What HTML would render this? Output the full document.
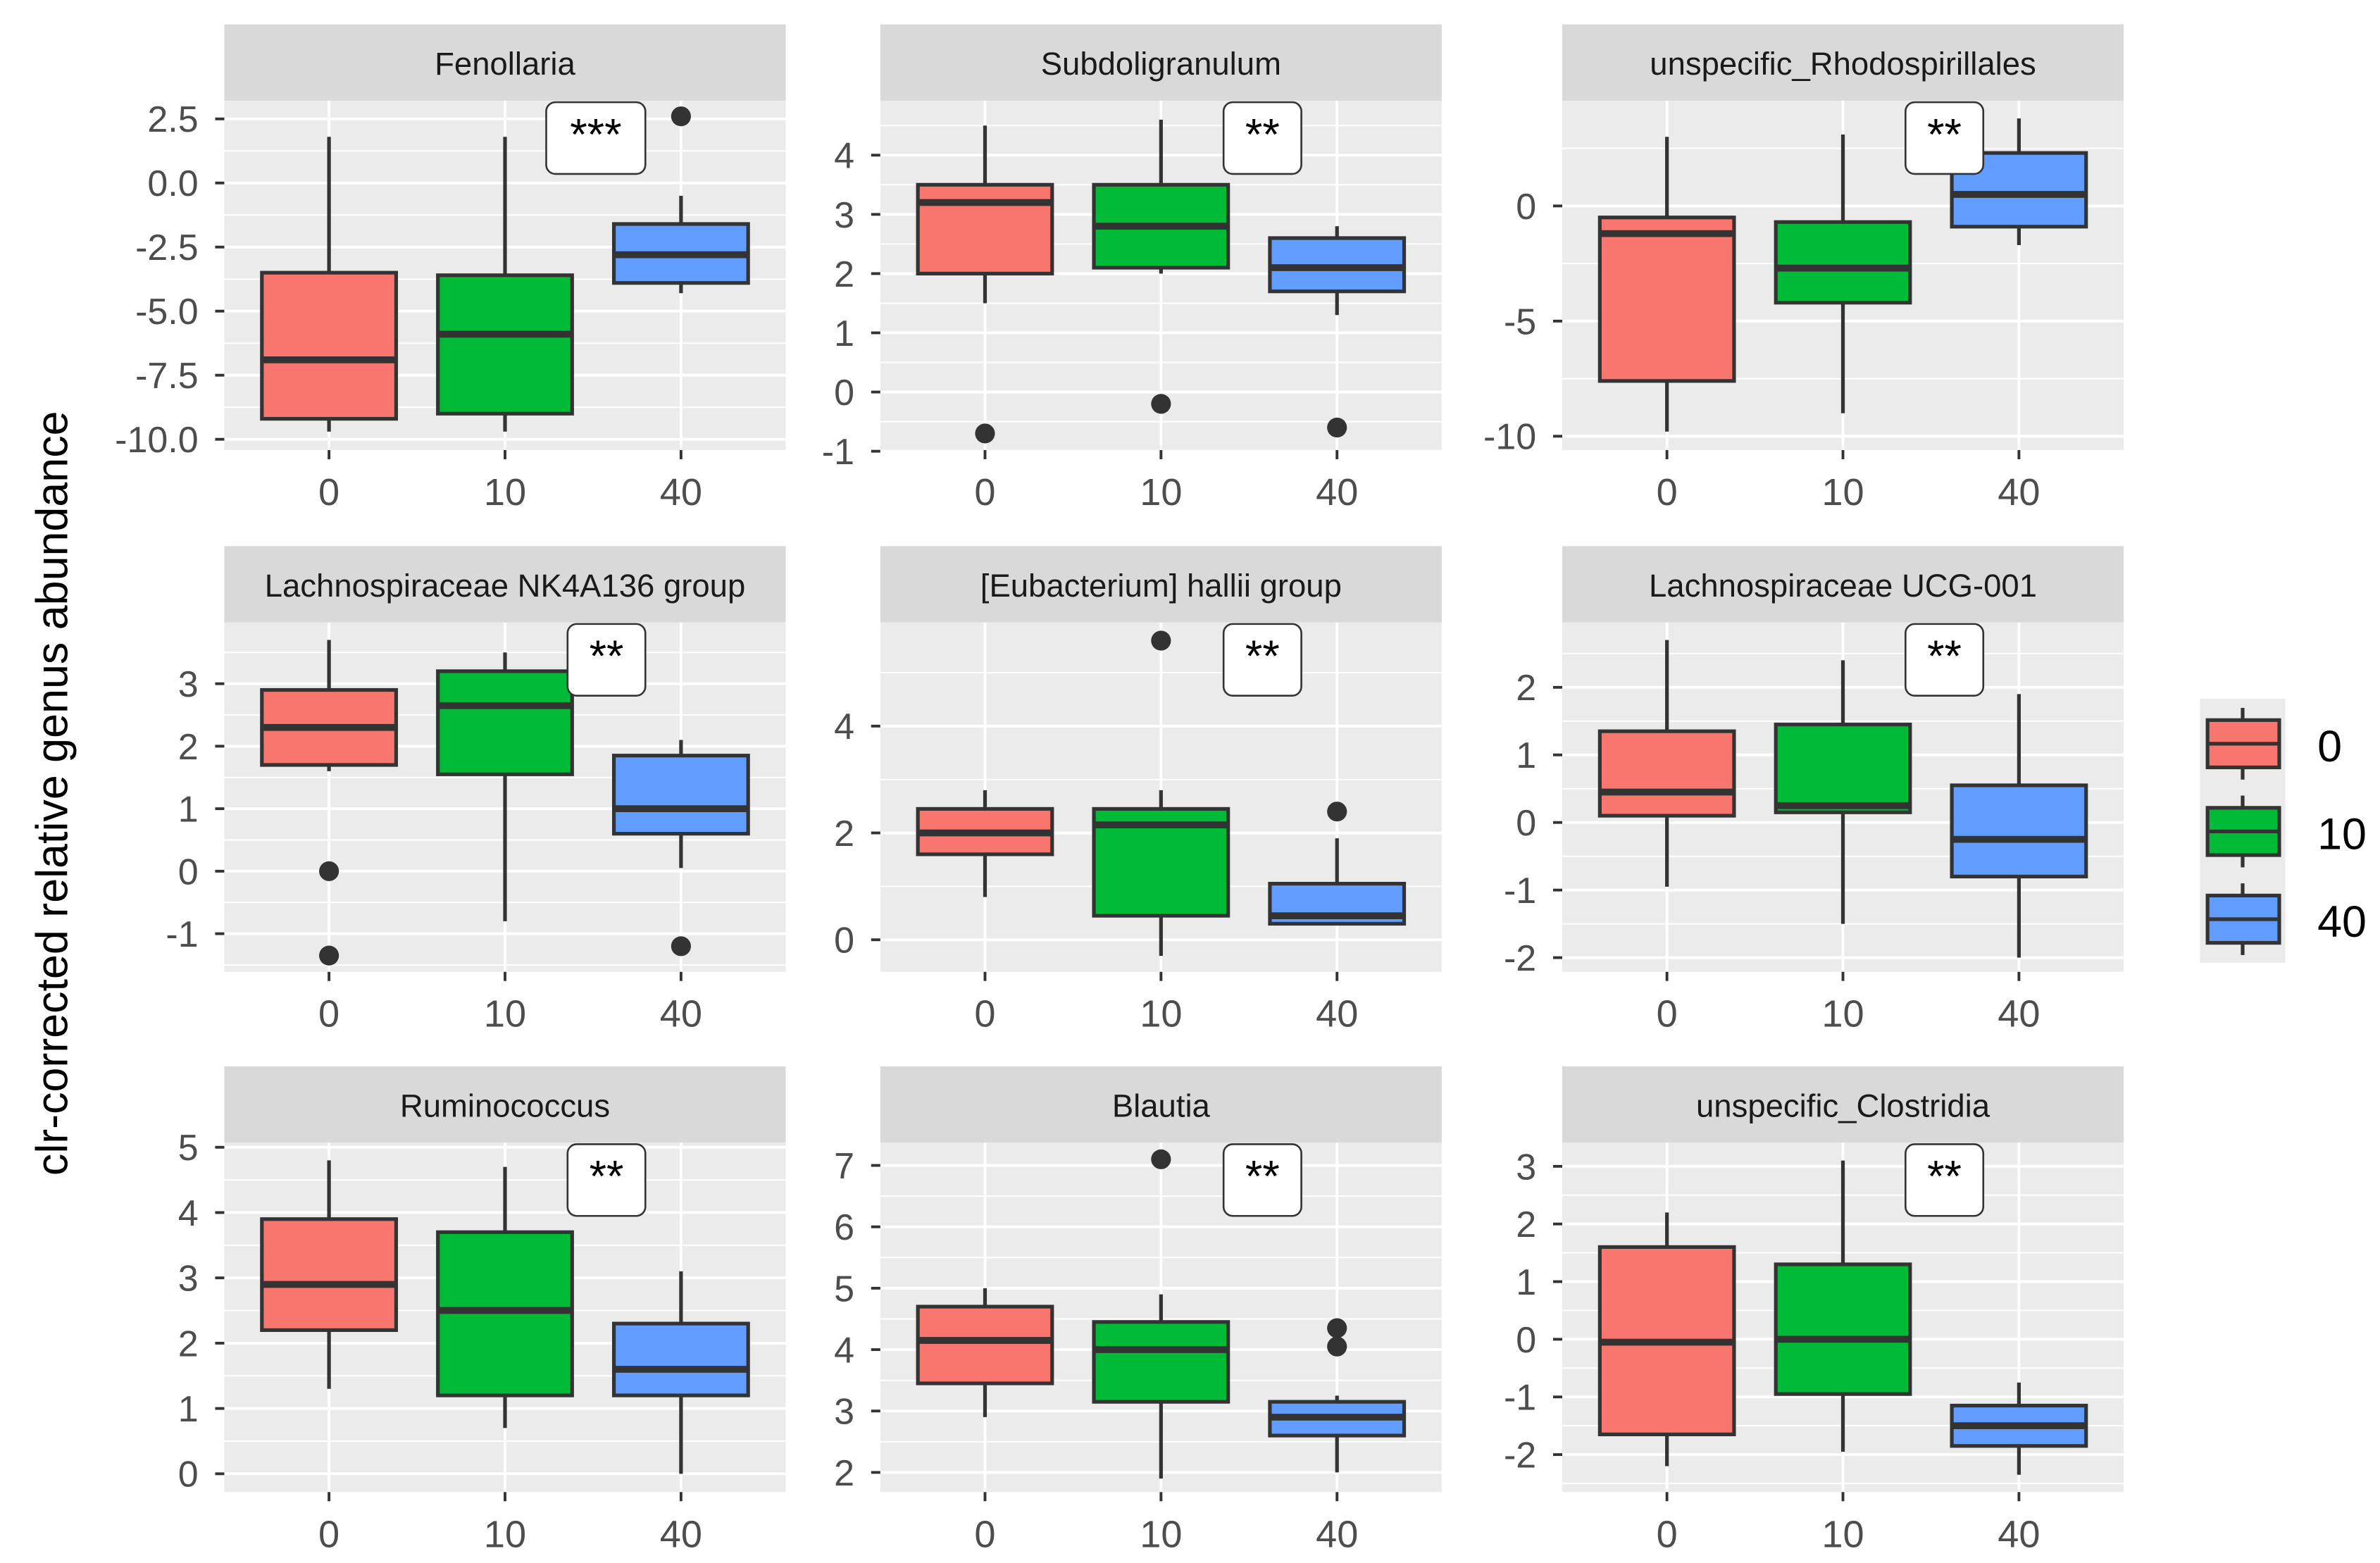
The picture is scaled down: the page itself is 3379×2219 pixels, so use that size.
<!DOCTYPE html>
<html><head><meta charset="utf-8"><style>
html,body{margin:0;padding:0;background:#fff;}
svg{display:block;font-family:"Liberation Sans",Arial,sans-serif;}
</style></head><body>
<svg id="chart" width="3379" height="2219" viewBox="0 0 1560 1024.5" xmlns="http://www.w3.org/2000/svg">
<rect x="0" y="0" width="1560" height="1024.5" fill="#fff"/>
<g id="panels"></g>
<text transform="translate(44,520) rotate(-90)" text-anchor="middle" font-size="29" fill="#000">clr-corrected relative genus abundance</text>
<g id="legend"></g>
</svg>
<script>
const groups = ["0","10","40"];
const colors = ["#F8766D","#00BA38","#619CFF"];
const titles = ["Fenollaria","Subdoligranulum","unspecific_Rhodospirillales","Lachnospiraceae NK4A136 group","[Eubacterium] hallii group","Lachnospiraceae UCG-001","Ruminococcus","Blautia","unspecific_Clostridia"];
const signif = ["***","**","**","**","**","**","**","**","**"];
const domains = [[-10.42,3.21],[-0.98,4.92],[-10.6,4.57],[-1.61,3.98],[-0.6,5.94],[-2.21,2.96],[-0.28,5.07],[1.68,7.37],[-2.65,3.41]];
const tickVals = [[2.5,0,-2.5,-5,-7.5,-10],[4,3,2,1,0,-1],[0,-5,-10],[3,2,1,0,-1],[4,2,0],[2,1,0,-1,-2],[5,4,3,2,1,0],[7,6,5,4,3,2],[3,2,1,0,-1,-2]];
const tickLabels = [["2.5","0.0","-2.5","-5.0","-7.5","-10.0"],["4","3","2","1","0","-1"],["0","-5","-10"],["3","2","1","0","-1"],["4","2","0"],["2","1","0","-1","-2"],["5","4","3","2","1","0"],["7","6","5","4","3","2"],["3","2","1","0","-1","-2"]];
// each box: [whiskerLow, q1, median, q3, whiskerHigh]
const stats = [
 [[-9.7,-9.2,-6.9,-3.5,1.8],[-9.7,-9.0,-5.9,-3.6,1.8],[-4.3,-3.9,-2.8,-1.6,-0.5]],
 [[1.5,2.0,3.2,3.5,4.5],[2.0,2.1,2.8,3.5,4.6],[1.3,1.7,2.1,2.6,2.8]],
 [[-9.8,-7.6,-1.2,-0.5,3.0],[-9.0,-4.2,-2.7,-0.7,3.1],[-1.7,-0.9,0.5,2.3,3.8]],
 [[1.6,1.7,2.3,2.9,3.7],[-0.8,1.55,2.65,3.2,3.5],[0.05,0.6,1.0,1.85,2.1]],
 [[0.8,1.6,2.0,2.45,2.8],[-0.3,0.45,2.15,2.45,2.8],[0.3,0.3,0.45,1.05,1.9]],
 [[-0.95,0.1,0.45,1.35,2.7],[-1.5,0.15,0.25,1.45,2.4],[-2.0,-0.8,-0.25,0.55,1.9]],
 [[1.3,2.2,2.9,3.9,4.8],[0.7,1.2,2.5,3.7,4.7],[0.0,1.2,1.6,2.3,3.1]],
 [[2.9,3.45,4.15,4.7,5.0],[1.9,3.15,4.0,4.45,4.9],[2.0,2.6,2.9,3.15,3.25]],
 [[-2.2,-1.65,-0.05,1.6,2.2],[-1.95,-0.95,0.0,1.3,3.1],[-2.35,-1.85,-1.5,-1.15,-0.75]]
];
const outliers = [
 [[],[],[2.6]],
 [[-0.7],[-0.2],[-0.6]],
 [[],[],[]],
 [[0,-1.35],[],[-1.2]],
 [[],[5.6],[2.4]],
 [[],[],[]],
 [[],[],[]],
 [[],[7.1],[4.35,4.05]],
 [[],[],[]]
];
const NS="http://www.w3.org/2000/svg";
function mk(tag,attrs,parent){const e=document.createElementNS(NS,tag);for(const k in attrs)e.setAttribute(k,attrs[k]);parent.appendChild(e);return e;}
const colX=[147,577,1024], pw=368, rowTop=[16,358,699], stripH=50, ph=229;
const panelsG=document.getElementById('panels');
for(let p=0;p<9;p++){
  const c=p%3,r=Math.floor(p/3);
  const x0=colX[c], st=rowTop[r], y0=st+stripH;
  const [lo,hi]=domains[p];
  const yS=v=>y0+ph-(v-lo)/(hi-lo)*ph;
  const xc=i=>x0+pw/2+(i-1)*pw*0.3135;
  const g=mk('g',{},panelsG);
  
  
  const strip=mk('rect',{x:x0,y:st,width:pw,height:stripH,fill:'#D9D9D9'},g);
  
  
  const stt=mk('text',{x:x0+pw/2,y:st+33,'text-anchor':'middle','font-size':21,fill:'#1A1A1A'},g);
  stt.textContent=titles[p];
  
  
  const bg=mk('rect',{x:x0,y:y0,width:pw,height:ph,fill:'#EBEBEB'},g);
  
  
  const tv=tickVals[p];
  const step=Math.abs(tv[0]-tv[1]);
  const mn=Math.min(...tv), mx=Math.max(...tv);
  for(let v=mn-step/2;v<=mx+step/2+1e-9;v+=step){
    if(v>lo&&v<hi){const gl=mk('line',{x1:x0,x2:x0+pw,y1:yS(v),y2:yS(v),stroke:'#fff','stroke-width':0.9},g);
      
      }
  }
  tv.forEach((v,k)=>{
    const gl=mk('line',{x1:x0,x2:x0+pw,y1:yS(v),y2:yS(v),stroke:'#fff','stroke-width':1.8},g);
    
    
    mk('line',{x1:x0-6,x2:x0,y1:yS(v),y2:yS(v),stroke:'#333','stroke-width':1.8},g);
    const t=mk('text',{x:x0-17,y:yS(v)+8.5,'text-anchor':'end','font-size':24,fill:'#4D4D4D'},g);
    t.textContent=tickLabels[p][k];
    
    
  });
  groups.forEach((gn,i)=>{
    const gl=mk('line',{x1:xc(i),x2:xc(i),y1:y0,y2:y0+ph,stroke:'#fff','stroke-width':1.8},g);
    
    
    mk('line',{x1:xc(i),x2:xc(i),y1:y0+ph,y2:y0+ph+6,stroke:'#333','stroke-width':1.8},g);
    const t=mk('text',{x:xc(i),y:y0+ph+36,'text-anchor':'middle','font-size':25,fill:'#4D4D4D'},g);
    t.textContent=gn;
    
    
  });
  const bw=88;
  stats[p].forEach((s,i)=>{
    const bx=mk('g',{},g);
    
    
    const cx=xc(i);
    mk('line',{x1:cx,x2:cx,y1:yS(s[0]),y2:yS(s[1]),stroke:'#333','stroke-width':2.4},bx);
    mk('line',{x1:cx,x2:cx,y1:yS(s[3]),y2:yS(s[4]),stroke:'#333','stroke-width':2.4},bx);
    mk('rect',{x:cx-bw/2,y:yS(s[3]),width:bw,height:Math.max(0.5,yS(s[1])-yS(s[3])),fill:colors[i],stroke:'#333','stroke-width':2.4},bx);
    mk('line',{x1:cx-bw/2,x2:cx+bw/2,y1:yS(s[2]),y2:yS(s[2]),stroke:'#333','stroke-width':4.5},bx);
    outliers[p][i].forEach(v=>{
      const o=mk('circle',{cx:cx,cy:yS(v),r:6.5,fill:'#333'},bx);
      
      
    });
  });
  const sw=signif[p].length===3?65:51;
  const sx=x0+225-(sw-51);
  const lb=mk('g',{},g);
  
  
  mk('rect',{x:sx,y:y0+1,width:sw,height:47,rx:6,fill:'#fff',stroke:'#333','stroke-width':1.2},lb);
  const st2=mk('text',{x:sx+sw/2,y:y0+32,'text-anchor':'middle','font-size':29,fill:'#000'},lb);
  st2.textContent=signif[p];
}
const lg=document.getElementById('legend');
mk('rect',{x:1442,y:458,width:56,height:173,fill:'#EBEBEB'},lg);
groups.forEach((gn,i)=>{
  const e=mk('g',{},lg);
  
  
  const ty=472+i*57.5;
  mk('line',{x1:1470,x2:1470,y1:ty-8,y2:ty+39,stroke:'#333','stroke-width':2.4},e);
  mk('rect',{x:1447,y:ty,width:47,height:31,fill:colors[i],stroke:'#333','stroke-width':2.4},e);
  mk('line',{x1:1447,x2:1494,y1:ty+15.5,y2:ty+15.5,stroke:'#333','stroke-width':2.4},e);
  const t=mk('text',{x:1519,y:ty+27,'font-size':29,fill:'#000'},e);
  t.textContent=gn;
});
</script>
</body></html>
